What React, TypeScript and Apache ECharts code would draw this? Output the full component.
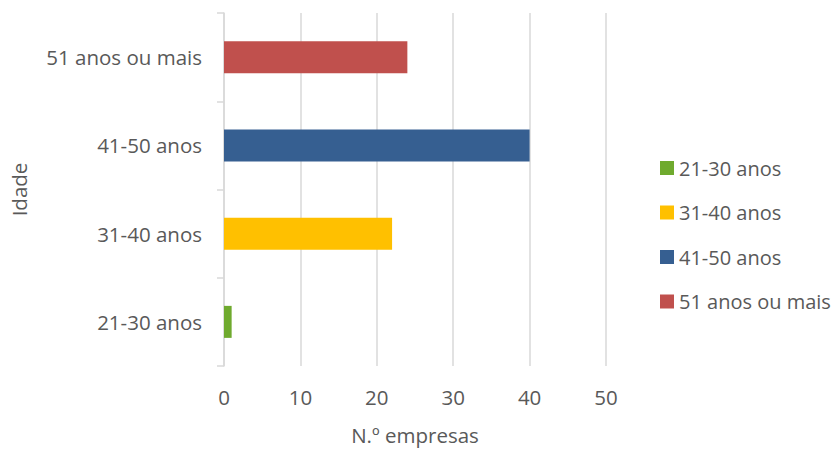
import React, { useEffect, useRef } from "react";
import * as echarts from "echarts";

const categories = ["21-30 anos", "31-40 anos", "41-50 anos", "51 anos ou mais"];
const seriesNames = ["21-30 anos", "31-40 anos", "41-50 anos", "51 anos ou mais"];
const values = [1, 22, 40, 24];
const colors = ["#6FAA2E", "#FFC000", "#365F91", "#C0504D"];
const xTicks = { min: 0, max: 50, interval: 10 };

export default function App() {
  const ref = useRef<HTMLDivElement>(null);
  useEffect(() => {
    if (!ref.current) return;
    const chart = echarts.init(ref.current, null, { renderer: "svg" });
    const font = "'Open Sans', sans-serif";
    const textColor = "#595959";
    const fs = 20.5;
    chart.setOption({
      animation: false,
      textStyle: { fontFamily: font },
      grid: { left: 224, right: 230, top: 13, bottom: 82, containLabel: false },
      legend: {
        orient: "vertical",
        left: 655,
        top: 153,
        itemWidth: 14,
        itemHeight: 14,
        itemGap: 24.5,
        icon: "rect",
        data: seriesNames,
        textStyle: { color: textColor, fontSize: 20, fontFamily: font },
      },
      xAxis: {
        type: "value",
        min: xTicks.min,
        max: xTicks.max,
        interval: xTicks.interval,
        axisLine: { show: false },
        axisTick: { show: false },
        splitLine: { show: true, lineStyle: { color: "#d9d9d9", width: 1.5 } },
        axisLabel: { color: textColor, fontSize: fs, margin: 20, fontFamily: font },
        name: "N.º empresas",
        nameLocation: "middle",
        nameGap: 58,
        nameTextStyle: { color: textColor, fontSize: fs, fontFamily: font },
      },
      yAxis: {
        type: "category",
        data: categories,
        axisLine: { show: true, lineStyle: { color: "#d9d9d9", width: 1.5 } },
        axisTick: { show: true, length: 7, lineStyle: { color: "#d9d9d9", width: 1.5 } },
        axisLabel: { color: textColor, fontSize: fs, margin: 22, fontFamily: font },
        name: "Idade",
        nameLocation: "middle",
        nameGap: 195,
        nameTextStyle: { color: textColor, fontSize: fs, fontFamily: font },
      },
      series: seriesNames.map((name, i) => ({
        name,
        type: "bar",
        stack: "total",
        barWidth: 32,
        itemStyle: { color: colors[i] },
        data: categories.map((_, j) => (j === i ? values[i] : "-")),
      })),
    });
    return () => chart.dispose();
  }, []);
  return <div ref={ref} style={{ width: 836, height: 450, position: "absolute", left: 0, top: 0, background: "#fff" }} />;
}
